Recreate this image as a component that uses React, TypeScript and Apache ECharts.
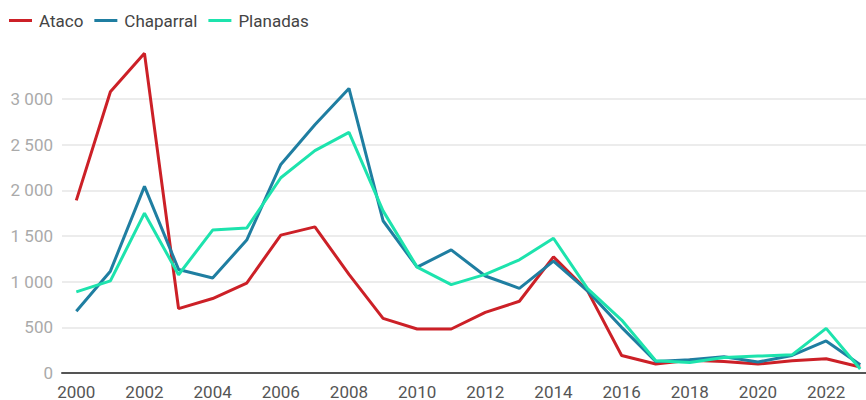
import React, { useEffect, useRef } from "react";
import * as echarts from "echarts";

const years = [2000, 2001, 2002, 2003, 2004, 2005, 2006, 2007, 2008, 2009, 2010, 2011, 2012, 2013, 2014, 2015, 2016, 2017, 2018, 2019, 2020, 2021, 2022, 2023];
const ataco = [1890, 3080, 3500, 705, 815, 985, 1510, 1600, 1080, 598, 482, 482, 663, 786, 1272, 899, 192, 98, 140, 127, 98, 134, 156, 65];
const chaparral = [677, 1115, 2043, 1134, 1040, 1456, 2283, 2717, 3116, 1667, 1159, 1348, 1062, 927, 1225, 899, 500, 127, 145, 177, 120, 192, 351, 90];
const planadas = [888, 1008, 1750, 1076, 1565, 1587, 2138, 2435, 2634, 1775, 1159, 967, 1080, 1239, 1475, 924, 580, 134, 116, 170, 185, 199, 489, 43];
const xTickLabels = [2000, 2002, 2004, 2006, 2008, 2010, 2012, 2014, 2016, 2018, 2020, 2022];

const seriesNames = ["Ataco", "Chaparral", "Planadas"];
const seriesColors = ["#cc2027", "#1f7ea1", "#1de3ad"];

export default function App() {
  const ref = useRef<HTMLDivElement>(null);
  useEffect(() => {
    if (!ref.current) return;
    const chart = echarts.init(ref.current, undefined, { renderer: "svg" });
    const allData = [ataco, chaparral, planadas];
    chart.setOption({
      animation: false,
      textStyle: { fontFamily: "Roboto" },
      legend: {
        left: 9,
        top: 12,
        padding: 0,
        icon: "rect",
        itemWidth: 23,
        itemHeight: 3,
        itemGap: 11,
        data: seriesNames,
        textStyle: { fontSize: 17, color: "#444", fontFamily: "Roboto", padding: [0, 0, 0, 2] },
      },
      grid: { left: 62, right: 0, top: 99, bottom: 25, containLabel: false },
      xAxis: {
        type: "value",
        min: 1999.58,
        max: 2023.17,
        axisLine: { show: true, lineStyle: { color: "#555", width: 2 } },
        axisTick: { show: false },
        splitLine: { show: false },
        axisLabel: {
          customValues: xTickLabels,
          fontSize: 17,
          color: "#555",
          margin: 10,
          formatter: (v: number) => String(v),
        },
      },
      yAxis: {
        type: "value",
        min: 0,
        max: 3000,
        interval: 500,
        axisLine: { show: false },
        axisTick: { show: false },
        splitLine: { lineStyle: { color: "#e6e6e6", width: 1.5 } },
        axisLabel: {
          fontSize: 17,
          color: "#aaa",
          margin: 9,
          formatter: (v: number) => String(v).replace(/\B(?=(\d{3})+(?!\d))/g, " "),
        },
      },
      series: seriesNames.map((name, i) => ({
        name,
        type: "line",
        clip: false,
        symbol: "none",
        data: years.map((y, j) => [y, allData[i][j]]),
        lineStyle: { width: 3, color: seriesColors[i] },
        itemStyle: { color: seriesColors[i] },
      })),
    });
    return () => chart.dispose();
  }, []);
  return (
    <div
      ref={ref}
      style={{ position: "fixed", left: 0, top: 0, width: 866, height: 400, background: "#fff" }}
    />
  );
}
